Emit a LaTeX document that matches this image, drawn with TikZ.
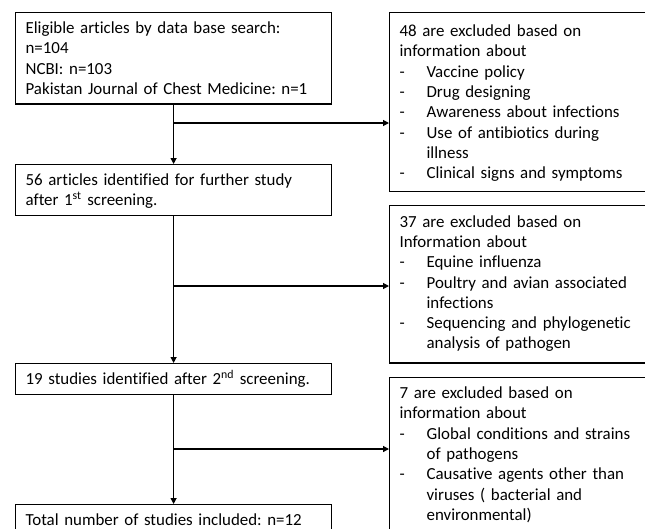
\documentclass[tikz,border=0pt]{standalone}
\usepackage{fontspec}
\setmainfont{Carlito}[Ligatures=NoCommon]
\usetikzlibrary{arrows.meta}
\frenchspacing

\newcommand{\tstrut}[1][21pt]{\rule{0pt}{#1}}
\newcommand{\bstrut}[1][9.5pt]{\rule[-#1]{0pt}{#1}}
\newcommand{\itm}[1]{\makebox[27pt][l]{-}#1}
\newcommand{\cont}[1]{\hspace*{27pt}#1}

\begin{document}
\begin{tikzpicture}[x=1pt,y=1pt,
    box/.style={draw,line width=1.2pt,anchor=north west,align=left,
        inner xsep=10pt,inner ysep=0pt,font=\fontsize{16.9}{20.3}\selectfont},
    leftbox/.style={box,text width=296pt},
    rightbox/.style={box,text width=270pt},
    arr/.style={line width=1.2pt,-{Triangle[length=6pt,width=6pt]}}]
    \useasboundingbox (0,0) rectangle (645,-528);
    \clip (0,0) rectangle (645,-528);

    % left column
    \node[leftbox] (elig) at (15,-12) {\tstrut Eligible articles by data base search:\\ n=104\\ NCBI: n=103\\ Pakistan Journal of Chest Medicine: n=1\bstrut};
    \node[leftbox] (ident1) at (15,-164) {\tstrut 56 articles identified for further study\\ after 1\textsuperscript{st} screening.\bstrut};
    \node[leftbox] (ident2) at (15,-363) {\tstrut 19 studies identified after 2\textsuperscript{nd} screening.\bstrut};
    \node[leftbox] (final) at (15,-504) {\tstrut Total number of studies included: n=12\bstrut};

    % right column
    \node[rightbox] (excl1) at (389,-12) {\tstrut[24pt]48 are excluded based on\\ information about\\
        \itm{Vaccine policy}\\ \itm{Drug designing}\\ \itm{Awareness about infections}\\
        \itm{Use of antibiotics during}\\ \cont{illness}\\ \itm{Clinical signs and symptoms}\bstrut[12.6pt]};
    \node[rightbox] (excl2) at (389,-205) {\tstrut[21.5pt]37 are excluded based on\\ Information about\\
        \itm{Equine influenza}\\ \itm{Poultry and avian associated}\\ \cont{infections}\\
        \itm{Sequencing and phylogenetic}\\ \cont{analysis of pathogen}\bstrut[14pt]};
    \node[rightbox] (excl3) at (389,-377) {\tstrut 7 are excluded based on\\ information about\\
        \itm{Global conditions and strains}\\ \cont{of pathogens}\\ \itm{Causative agents other than}\\
        \cont{viruses ( bacterial and}\\ \cont{environmental)}\bstrut};

    % trunk and branches
    \draw[arr] (elig) -- (ident1);
    \draw[arr] (ident1) -- (ident2);
    \draw[arr] (ident2) -- (final);
    \coordinate (br1) at (elig.south |- 0,-123);
    \coordinate (br2) at (ident1.south |- 0,-286);
    \coordinate (br3) at (ident2.south |- 0,-449);
    \draw[arr] (br1) -- (br1 -| excl1.west);
    \draw[arr] (br2) -- (br2 -| excl2.west);
    \draw[arr] (br3) -- (br3 -| excl3.west);
\end{tikzpicture}
\end{document}
